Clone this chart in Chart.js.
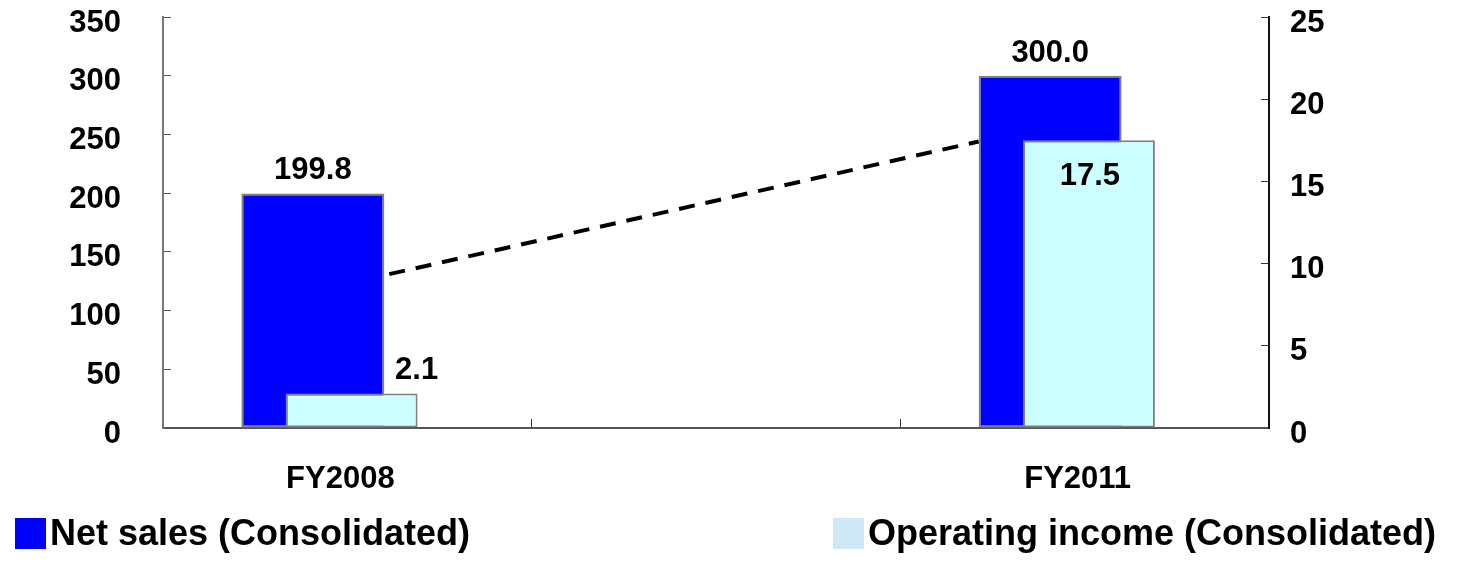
<!DOCTYPE html>
<html>
<head>
<meta charset="utf-8">
<script src="https://cdn.jsdelivr.net/npm/chart.js@4/dist/chart.umd.min.js"></script>
<style>
  html, body { margin: 0; padding: 0; background: #fff; }
  #wrap { position: relative; width: 1457px; height: 567px; overflow: hidden; }
  #chart { position: absolute; left: 0; top: 0; }
  .legend-item {
    position: absolute; display: flex; align-items: center; white-space: nowrap;
    font: bold 36px "Liberation Sans", Arial, sans-serif; color: #000;
  }
  .legend-item .swatch { width: 31px; height: 31px; margin-right: 4px; flex: none; }
</style>
</head>
<body>
<div id="wrap">
  <canvas id="chart" width="1457" height="567"></canvas>
</div>
<script>
// Categories (the middle one is an empty spacer between the two fiscal years)
const categories = ['FY2008', '', 'FY2011'];

// Net sales (left axis) and operating income (right axis)
const netSales = [199.8, null, 300.0];
const operatingIncome = [2.1, null, 17.5];

// Axis tick values
const leftTicks = [0, 50, 100, 150, 200, 250, 300, 350];
const rightTicks = [0, 5, 10, 15, 20, 25];

// Growth arrow between the two years, in left-axis units
const trendLine = [131, 244];

const FONT = '"Liberation Sans", Arial, sans-serif';
Chart.defaults.font.family = FONT;
Chart.defaults.font.weight = 'bold';
Chart.defaults.color = '#000';

// Operating income is painted over net sales
const paintOrder = {
  id: 'paintOrder',
  beforeDatasetDraw(chart, args) {
    if (args.index === 0) return false;
    if (args.index === 1) chart.getDatasetMeta(0).controller.draw();
  }
};

// Dashed growth line from the FY2008 net sales bar to the FY2011 one
const growthLine = {
  id: 'growthLine',
  afterDatasetsDraw(chart) {
    const bars = chart.getDatasetMeta(0).data;
    const a = bars[0].getProps(['x', 'width'], true);
    const b = bars[2].getProps(['x', 'width'], true);
    const y = chart.scales.y;
    const ctx = chart.ctx;
    ctx.save();
    ctx.strokeStyle = '#000';
    ctx.lineWidth = 4;
    ctx.setLineDash([16, 11]);
    ctx.beginPath();
    ctx.moveTo(a.x + a.width / 2 + 5, y.getPixelForValue(trendLine[0]));
    ctx.lineTo(b.x - b.width / 2, y.getPixelForValue(trendLine[1]));
    ctx.stroke();
    ctx.restore();
  }
};

// Value labels; placement per point is (dx from bar centre, dy of baseline from bar top)
const valueLabels = {
  id: 'valueLabels',
  afterDatasetsDraw(chart, args, opts) {
    const ctx = chart.ctx;
    ctx.save();
    ctx.font = 'bold 31px ' + FONT;
    ctx.fillStyle = '#000';
    ctx.textAlign = 'center';
    ctx.textBaseline = 'alphabetic';
    chart.data.datasets.forEach((ds, di) => {
      const meta = chart.getDatasetMeta(di);
      ds.data.forEach((v, i) => {
        if (v === null) return;
        const el = meta.data[i].getProps(['x', 'y'], true);
        const p = opts.placement[di][i];
        ctx.fillText(v.toFixed(1), el.x + p.dx, el.y + p.dy);
      });
    });
    ctx.restore();
  }
};

const tickFont = { size: 31, weight: 'bold', family: FONT };

const chart = new Chart(document.getElementById('chart'), {
  type: 'bar',
  data: {
    labels: categories,
    datasets: [
      {
        label: 'Net sales (Consolidated)',
        data: netSales,
        yAxisID: 'y',
        backgroundColor: '#0000FF',
        borderColor: '#808080',
        borderWidth: 2,
        borderSkipped: false,
        categoryPercentage: 0.3743,
        barPercentage: 2.072
      },
      {
        label: 'Operating income (Consolidated)',
        data: operatingIncome,
        yAxisID: 'y1',
        backgroundColor: '#CCFFFF',
        borderColor: '#808080',
        borderWidth: 2,
        borderSkipped: false,
        categoryPercentage: 0.0461,
        barPercentage: 15.53
      }
    ]
  },
  options: {
    responsive: false,
    animation: false,
    devicePixelRatio: 1,
    layout: { padding: { top: 17, left: 0, right: 0, bottom: 0 } },
    plugins: {
      legend: { display: false },
      tooltip: { enabled: false },
      valueLabels: {
        placement: [
          [{ dx: 0, dy: -14 }, null, { dx: 0, dy: -14 }],
          [{ dx: 65, dy: -14 }, null, { dx: 1, dy: 45 }]
        ]
      }
    },
    scales: {
      x: {
        type: 'category',
        offset: true,
        grid: { offset: true, drawOnChartArea: false, drawTicks: true, tickLength: -9, color: '#333', lineWidth: 1 },
        border: { display: true, color: '#555', width: 2 },
        ticks: { font: tickFont, color: '#000', padding: 42, labelOffset: -7, maxRotation: 0, autoSkip: false },
        afterFit(s) { s.height = 139; s.paddingLeft = 0; s.paddingRight = 0; }
      },
      y: {
        position: 'left',
        min: leftTicks[0],
        max: leftTicks[leftTicks.length - 1],
        afterBuildTicks(s) { s.ticks = leftTicks.map(v => ({ value: v })); },
        grid: { drawOnChartArea: false, drawTicks: true, tickLength: -8, color: '#555', lineWidth: 1 },
        border: { display: true, color: '#777', width: 2 },
        ticks: { font: tickFont, color: '#000', padding: 50, labelOffset: 6 },
        afterFit(s) { s.width = 163; s.paddingTop = 0; s.paddingBottom = 0; }
      },
      y1: {
        position: 'right',
        min: rightTicks[0],
        max: rightTicks[rightTicks.length - 1],
        afterBuildTicks(s) { s.ticks = rightTicks.map(v => ({ value: v })); },
        grid: { drawOnChartArea: false, drawTicks: true, tickLength: -8, color: '#333', lineWidth: 1 },
        border: { display: true, color: '#111', width: 2 },
        ticks: { font: tickFont, color: '#000', padding: 29, labelOffset: 6 },
        afterFit(s) { s.width = 188; s.paddingTop = 0; s.paddingBottom = 0; }
      }
    }
  },
  plugins: [paintOrder, growthLine, valueLabels]
});

// Legend below the plot, built from the dataset labels
const legendSwatches = ['#0000FF', '#CFE8F8'];
const legendLeft = [15, 833];
chart.data.datasets.forEach((ds, i) => {
  const item = document.createElement('div');
  item.className = 'legend-item';
  item.style.left = legendLeft[i] + 'px';
  item.style.top = '512px';
  const sw = document.createElement('span');
  sw.className = 'swatch';
  sw.style.background = legendSwatches[i];
  const txt = document.createElement('span');
  txt.textContent = ds.label;
  item.appendChild(sw);
  item.appendChild(txt);
  document.getElementById('wrap').appendChild(item);
});
</script>
</body>
</html>
